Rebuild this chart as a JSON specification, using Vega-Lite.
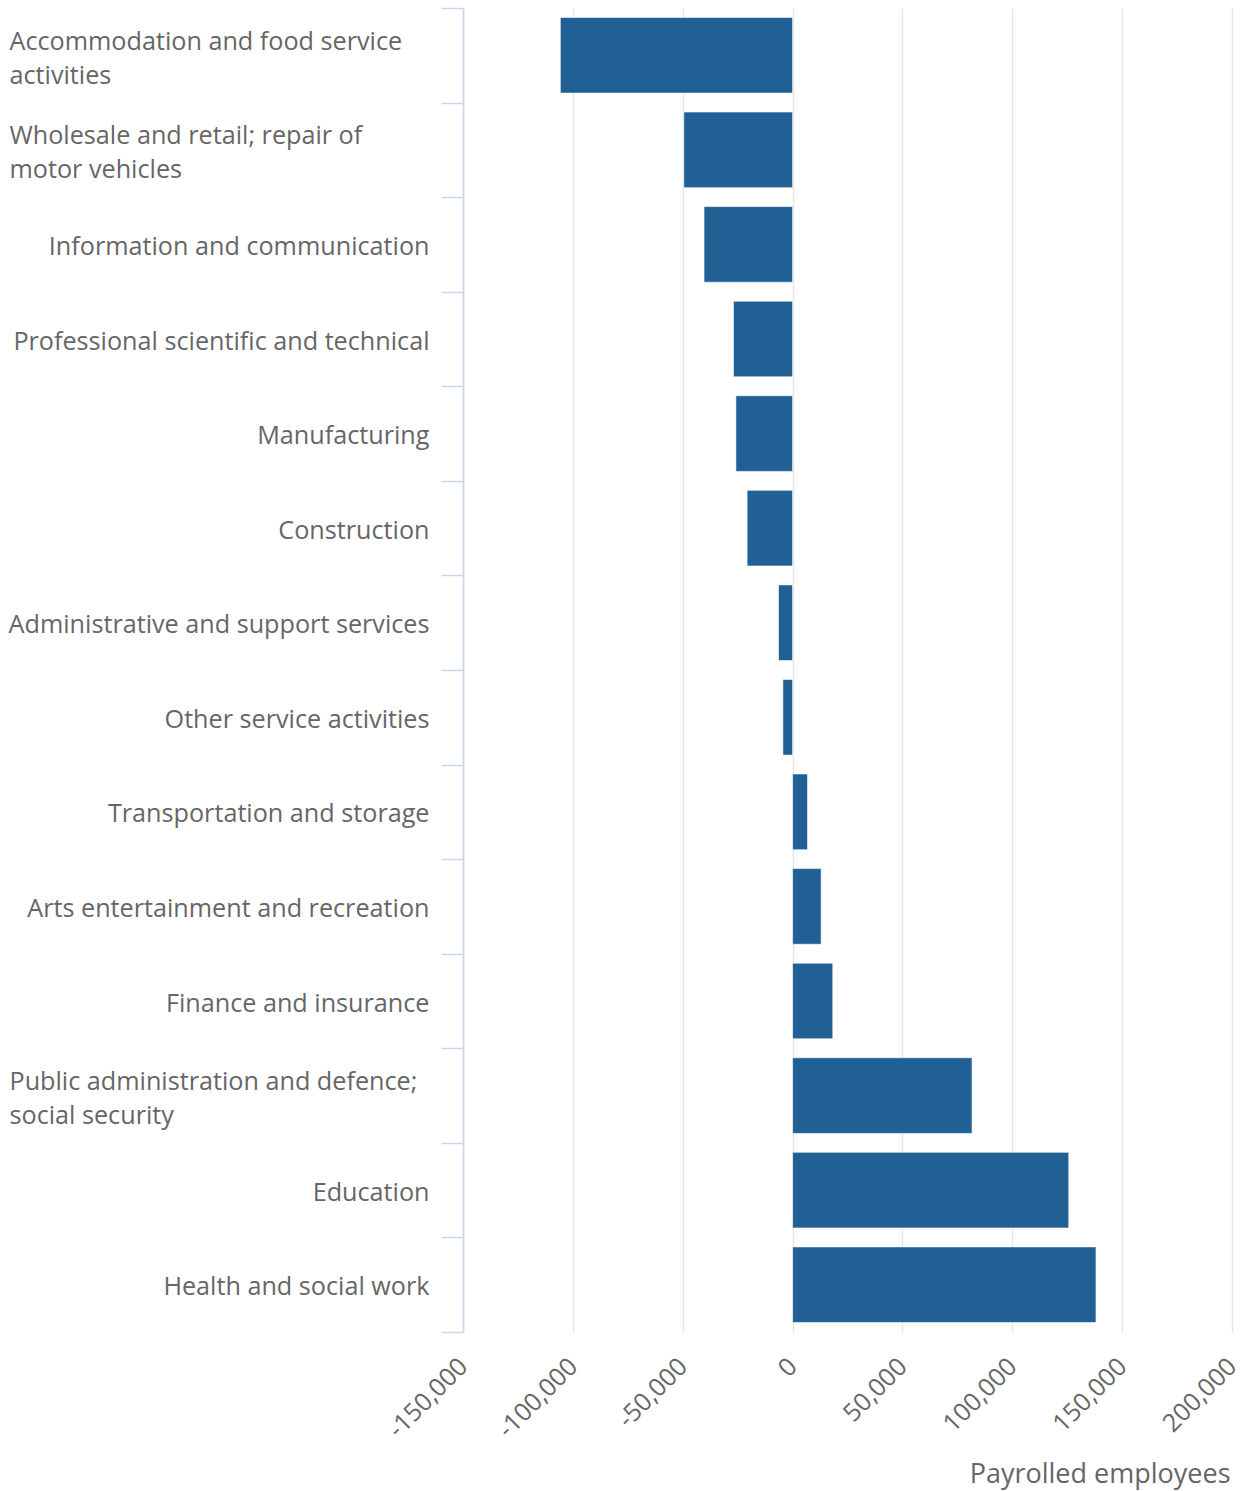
{
  "$schema": "https://vega.github.io/schema/vega-lite/v6.json",
  "autosize": {"type": "none"},
  "padding": {"left": 463, "top": 8, "right": 11, "bottom": 159},
  "width": 769,
  "height": 1324,
  "background": "#ffffff",
  "config": {
    "view": {"stroke": null},
    "font": "Open Sans"
  },
  "data": {
    "values": [
      {"sector": "Accommodation and food service activities", "change": -105700},
      {"sector": "Wholesale and retail; repair of motor vehicles", "change": -49500},
      {"sector": "Information and communication", "change": -40300},
      {"sector": "Professional scientific and technical", "change": -26900},
      {"sector": "Manufacturing", "change": -25800},
      {"sector": "Construction", "change": -20700},
      {"sector": "Administrative and support services", "change": -6400},
      {"sector": "Other service activities", "change": -4400},
      {"sector": "Transportation and storage", "change": 6800},
      {"sector": "Arts entertainment and recreation", "change": 13000},
      {"sector": "Finance and insurance", "change": 18300},
      {"sector": "Public administration and defence; social security", "change": 81700},
      {"sector": "Education", "change": 125700},
      {"sector": "Health and social work", "change": 138100}
    ]
  },
  "mark": {"type": "bar", "color": "#206095", "stroke": "#ffffff", "strokeWidth": 0.6, "height": {"band": 0.8}},
  "encoding": {
    "y": {
      "field": "sector",
      "type": "nominal",
      "sort": null,
      "scale": {"paddingInner": 0, "paddingOuter": 0},
      "axis": {
        "title": null,
        "tickBand": "extent",
        "domainColor": "#ccd6eb",
        "domainWidth": 1.5,
        "tickColor": "#ccd6eb",
        "tickWidth": 1.5,
        "tickSize": 22,
        "labelFont": "Open Sans",
        "labelFontSize": 25.2,
        "labelColor": "#666666",
        "labelLineHeight": 34,
        "labelLimit": 0,
        "labelAlign": {"condition": {"test": "indexof(['Accommodation and food service activities','Wholesale and retail; repair of motor vehicles','Public administration and defence; social security'], datum.value) >= 0", "value": "left"}, "value": "right"},
        "labelPadding": {"condition": {"test": "indexof(['Accommodation and food service activities','Wholesale and retail; repair of motor vehicles','Public administration and defence; social security'], datum.value) >= 0", "value": 432}, "value": 12},
        "labelOffset": {"condition": {"test": "indexof(['Accommodation and food service activities','Wholesale and retail; repair of motor vehicles','Public administration and defence; social security'], datum.value) >= 0", "value": -14}, "value": 2},
        "labelExpr": "datum.value == 'Accommodation and food service activities' ? ['Accommodation and food service', 'activities'] : datum.value == 'Wholesale and retail; repair of motor vehicles' ? ['Wholesale and retail; repair of', 'motor vehicles'] : datum.value == 'Public administration and defence; social security' ? ['Public administration and defence;', 'social security'] : datum.label"
      }
    },
    "x": {
      "field": "change",
      "type": "quantitative",
      "scale": {"domain": [-150000, 200000], "nice": false, "zero": false},
      "axis": {
        "values": [-150000, -100000, -50000, 0, 50000, 100000, 150000, 200000],
        "labelExpr": "replace(format(datum.value, ','), '−', '-')",
        "domain": false,
        "ticks": false,
        "grid": true,
        "gridColor": "#e6e6e6",
        "gridWidth": 1.5,
        "labelAngle": -45,
        "labelAlign": "right",
        "labelBaseline": "middle",
        "labelPadding": 30,
        "labelFont": "Open Sans",
        "labelFontSize": 25,
        "labelColor": "#666666",
        "labelFlush": false,
        "labelOverlap": false,
        "title": "Payrolled employees",
        "titleFont": "Open Sans",
        "titleFontSize": 27,
        "titleFontWeight": "normal",
        "titleColor": "#666666",
        "titleAnchor": "end",
        "titleAlign": "right",
        "titleBaseline": "alphabetic",
        "titleX": 767,
        "titleY": 150
      }
    }
  }
}
